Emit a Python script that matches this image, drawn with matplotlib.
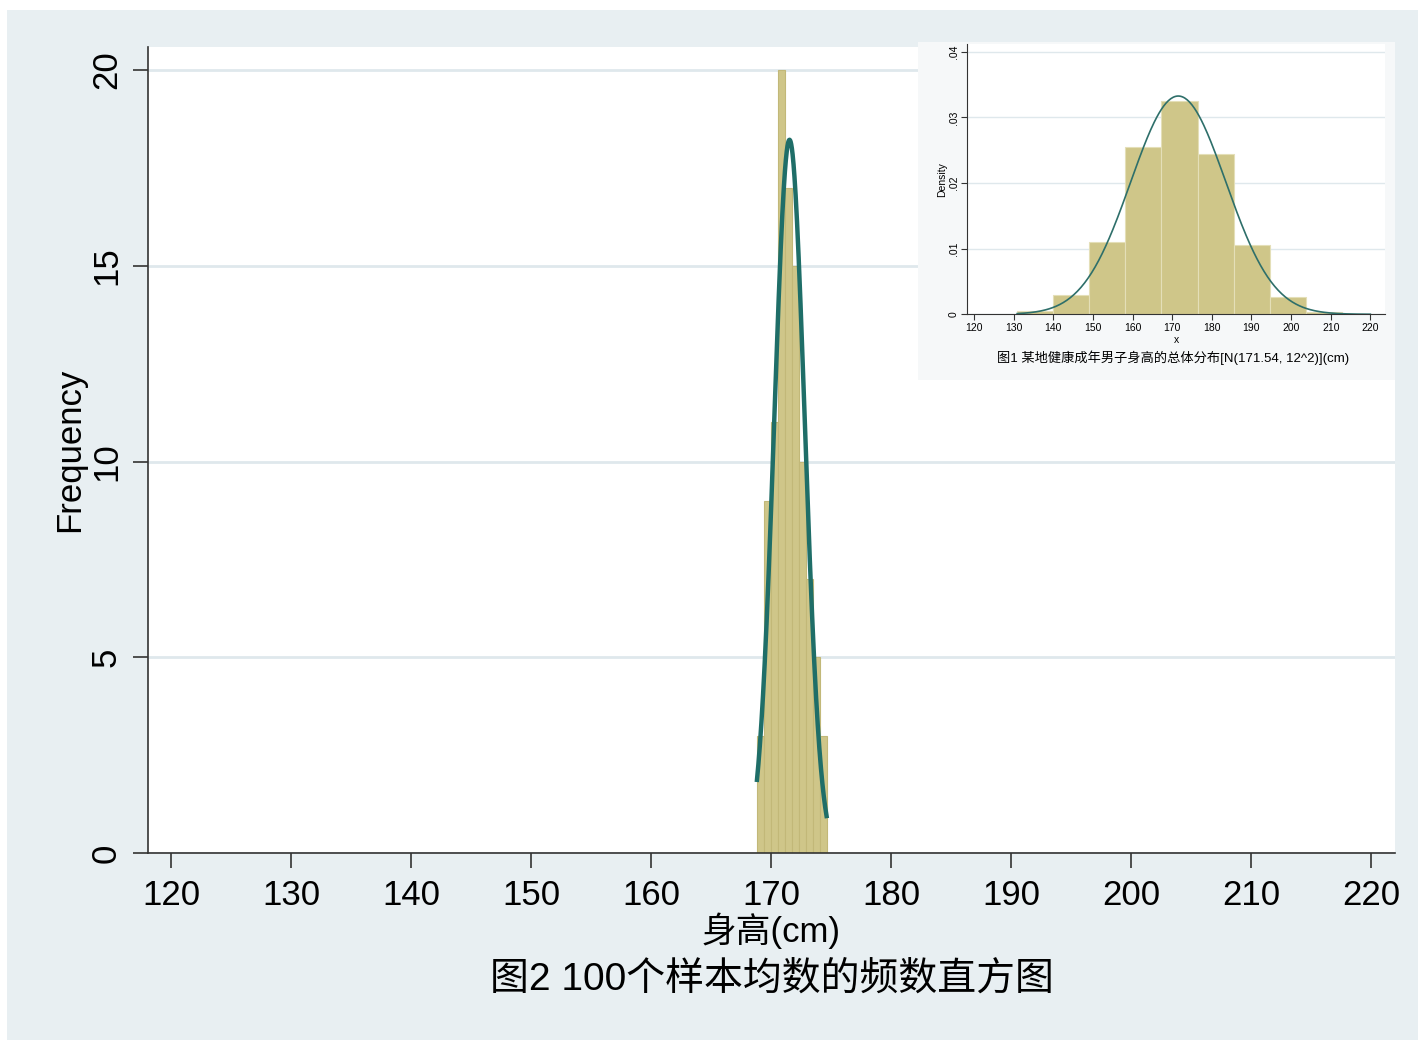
import matplotlib.pyplot as plt
import numpy as np
from matplotlib.patches import Rectangle

plt.rcParams['font.family'] = ['Liberation Sans', 'Noto Sans CJK SC']

# main histogram: 100 sample means
main_start = 168.83
main_width = 0.58
main_counts = [3, 9, 11, 20, 17, 15, 10, 7, 5, 3]
main_mean = 171.54
main_sd = 1.27
main_n = 100

# inset histogram: population distribution
inset_start = 130.9
inset_width = 9.1
inset_density = [0.00056, 0.0029, 0.0110, 0.0255, 0.0325, 0.0244, 0.0106, 0.0027, 0.0004]
pop_mean = 171.54
pop_sd = 12.0

xticks = [120, 130, 140, 150, 160, 170, 180, 190, 200, 210, 220]
main_yticks = [0, 5, 10, 15, 20]
inset_yticks = [0, 0.01, 0.02, 0.03, 0.04]
inset_ylabels = ['0', '.01', '.02', '.03', '.04']

BG = '#e8eff2'
GRID = '#dfe8ec'
BAR = '#cfc689'
BAR_EDGE = '#c2b878'
LINE = '#1f6e68'

fig = plt.figure(figsize=(14.24, 10.41), dpi=100, facecolor='white')
fig.patches.append(Rectangle((7 / 1424, 1 - 1040 / 1041), 1411 / 1424, 1030 / 1041,
                             transform=fig.transFigure, facecolor=BG, edgecolor='none', zorder=-5))

ax = fig.add_axes([148 / 1424, 1 - 853 / 1041, (1395 - 148) / 1424, (853 - 47) / 1041])
ax.set_zorder(1)
ax.set_facecolor('white')
edges = main_start + main_width * np.arange(len(main_counts) + 1)
ax.bar(edges[:-1], main_counts, width=main_width, align='edge',
       color=BAR, edgecolor=BAR_EDGE, linewidth=0.8, zorder=2)
xs = np.linspace(edges[0], edges[-1], 300)
ys = main_n * main_width * np.exp(-0.5 * ((xs - main_mean) / main_sd) ** 2) / (main_sd * np.sqrt(2 * np.pi))
ax.plot(xs, ys, color=LINE, lw=3.2, zorder=3)

ax.set_xlim(118.08, 222.0)
ax.set_ylim(0, 20.59)
ax.set_xticks(xticks)
ax.set_yticks(main_yticks)
ax.grid(axis='y', color=GRID, lw=2)
ax.set_axisbelow(True)
for s in ['top', 'right']:
    ax.spines[s].set_visible(False)
for s in ['left', 'bottom']:
    ax.spines[s].set_color('#333333')
    ax.spines[s].set_linewidth(1.2)
ax.tick_params(axis='both', length=11, width=1.2, color='#333333', labelsize=25)
ax.tick_params(axis='x', pad=8)
ax.tick_params(axis='y', labelrotation=90, pad=7)
for lab in ax.get_yticklabels():
    lab.set_va('center')
ax.set_ylabel('Frequency', fontsize=25, labelpad=3)
ax.set_xlabel('身高(cm)', fontsize=25, labelpad=0)
fig.text(772 / 1424, 1 - 979 / 1041, '图2 100个样本均数的频数直方图', fontsize=28,
         ha='center', va='center')

# inset
fig.patches.append(Rectangle((918 / 1424, 1 - 380 / 1041), (1395 - 918) / 1424, (380 - 42) / 1041,
                             transform=fig.transFigure, facecolor='#f6f8f9', edgecolor='none', zorder=2))
ins = fig.add_axes([967 / 1424, 1 - 314.3 / 1041, (1385 - 967) / 1424, (314.3 - 44) / 1041])
ins.set_zorder(3)
ins.set_facecolor('white')
iedges = inset_start + inset_width * np.arange(len(inset_density) + 1)
ins.bar(iedges[:-1], inset_density, width=inset_width, align='edge',
        color=BAR, edgecolor='#e4dfb8', linewidth=0.8, zorder=2)
ixs = np.linspace(iedges[0], 220, 300)
iys = np.exp(-0.5 * ((ixs - pop_mean) / pop_sd) ** 2) / (pop_sd * np.sqrt(2 * np.pi))
ins.plot(ixs, iys, color='#2e6f6a', lw=1.2, zorder=3)
ins.set_xlim(118.24, 223.7)
ins.set_ylim(0, 0.04117)
ins.set_xticks(xticks)
ins.set_yticks(inset_yticks)
ins.set_yticklabels(inset_ylabels)
ins.grid(axis='y', color=GRID, lw=1)
ins.set_axisbelow(True)
for s in ['top', 'right']:
    ins.spines[s].set_visible(False)
for s in ['left', 'bottom']:
    ins.spines[s].set_color('#333333')
    ins.spines[s].set_linewidth(0.8)
ins.tick_params(axis='both', length=4, width=0.8, color='#333333', labelsize=7.5, pad=2)
ins.tick_params(axis='y', labelrotation=90)
for lab in ins.get_yticklabels():
    lab.set_va('center')
ins.set_ylabel('Density', fontsize=7.5, labelpad=1)
ins.set_xlabel('x', fontsize=7.5, labelpad=1.5)
fig.text(1173 / 1424, 1 - 358 / 1041, '图1 某地健康成年男子身高的总体分布[N(171.54, 12^2)](cm)',
         fontsize=9.5, ha='center', va='center', zorder=4)

fig.savefig('out.png', dpi=100, facecolor=fig.get_facecolor())
